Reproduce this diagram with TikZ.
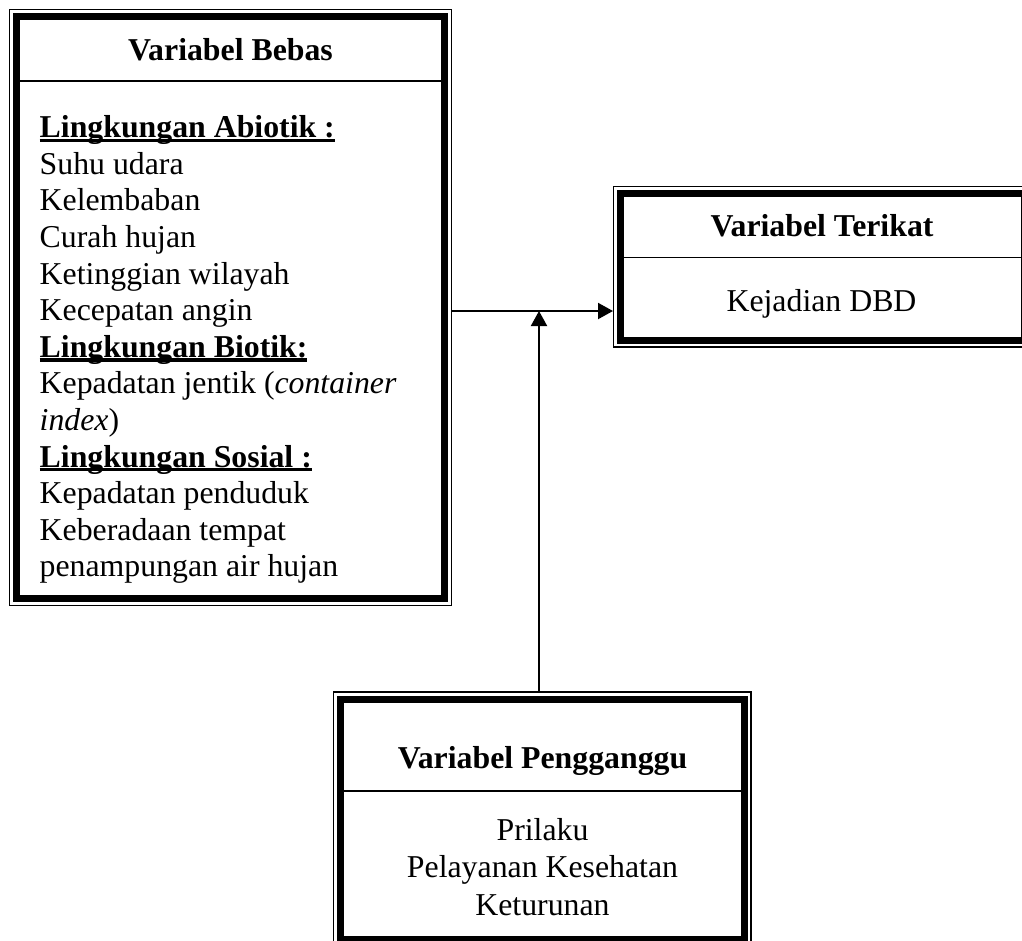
\documentclass[tikz,border=0pt]{standalone}
\usepackage{fontspec}
\setmainfont{Liberation Serif}
\usepackage{tikz}
\usetikzlibrary{arrows.meta, positioning}
\newcommand{\ulhead}[1]{\setbox0=\hbox{\bfseries #1}\rlap{\rule[-4.3pt]{\wd0}{3.3pt}}\box0}

\begin{document}
\begin{tikzpicture}[
  x=1pt, y=-1pt,
  frame/.style={draw, fill=white, line width=7pt, inner sep=0pt, outer sep=7.5pt,
    preaction={draw, line width=15.5pt}, preaction={draw=white, line width=12.5pt}},
  txt/.style={inner sep=0pt, anchor=base, font=\fontsize{31.8}{36.6}\selectfont},
  title/.style={txt, font=\fontsize{31.8}{36.6}\selectfont\bfseries},
  rule/.style={line width=1.3pt},
  arrow/.style={line width=2pt, -{Triangle[length=15pt, width=16pt]}}
]
\useasboundingbox (0,0) rectangle (1022,940);

\node[frame, minimum width=428pt, minimum height=582pt] (bebas) at (230.5,307.5) {};
\node[frame, minimum width=403.5pt, minimum height=146.7pt] (terikat) at (822.25,266.65) {};
\node[frame, minimum width=403.7pt, minimum height=240.5pt] (pengganggu) at (542.35,819.25) {};

\draw[rule] (20,81) -- (441,81);
\draw[rule] (624,257.3) -- (1022,257.3);
\draw[rule] (344,791) -- (740.7,791);

% base of a multi-line node is its last line
\node[title] (bebastitle) at (230.5,60) {Variabel Bebas};
\node[txt, anchor=base west, align=left] (bebaslist) at (39.5,576.9) {%
  \ulhead{Lingkungan Abiotik :}\\
  Suhu udara\\
  Kelembaban\\
  Curah hujan\\
  Ketinggian wilayah\\
  Kecepatan angin\\
  \ulhead{Lingkungan Biotik:}\\
  Kepadatan jentik (\textit{container}\\
  \textit{index})\\
  \ulhead{Lingkungan Sosial :}\\
  Kepadatan penduduk\\
  Keberadaan tempat\\
  penampungan air hujan};

\node[title] (teriktitle) at (822,236.7) {Variabel Terikat};
\node[txt] (dbd) at (821.5,311.7) {Kejadian DBD};

\node[title] (ganggutitle) at (542.5,768.3) {Variabel Pengganggu};
\node[txt, align=center, font=\fontsize{31.8}{37.5}\selectfont] (ganggulist) at (542.5,915) {Prilaku\\Pelayanan Kesehatan\\Keturunan};

\coordinate (junction) at (539,311);
\draw[arrow] (bebas.east |- junction) -- (terikat.west |- junction);
\draw[arrow] (pengganggu.north -| junction) -- (junction);
\end{tikzpicture}
\end{document}
